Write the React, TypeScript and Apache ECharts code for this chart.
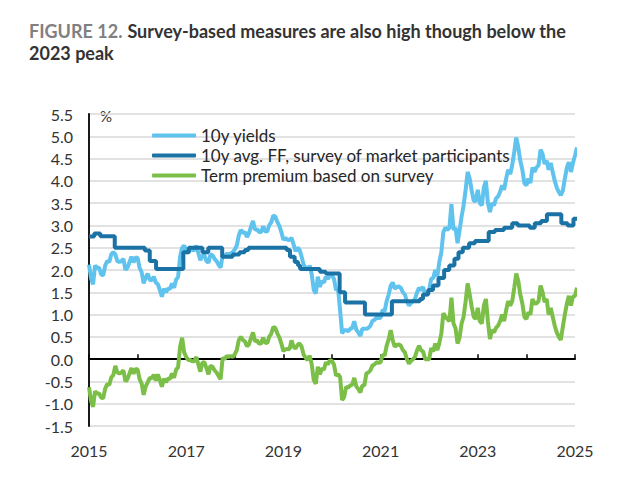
import React, { useEffect, useRef } from "react";
import * as echarts from "echarts";

// Observation dates: 1st and 16th of every month, Jan 2015 – Jan 2025
const obsYears = [2015, 2016, 2017, 2018, 2019, 2020, 2021, 2022, 2023, 2024];
const obsDays = ["01", "16"];
const obsDates: string[] = [];
obsYears.forEach((y) => {
  for (let m = 1; m <= 12; m++) {
    obsDays.forEach((d) => obsDates.push(`${y}-${String(m).padStart(2, "0")}-${d}`));
  }
});
obsDates.push("2025-01-01", "2025-01-16");

// 10y yields (%)
const tenYearYield = [
  // 2015
  2.12, 1.82, 1.68, 2.1, 2.05, 2.05, 1.9, 1.88, 2.1, 2.2, 2.18, 2.35, 2.4, 2.35, 2.2, 2.18, 2.2, 2.25, 2.0, 2.05, 2.18, 2.3, 2.17, 2.28,
  // 2016
  2.27, 2.05, 1.95, 1.7, 1.83, 1.92, 1.78, 1.77, 1.85, 1.72, 1.68, 1.55, 1.4, 1.58, 1.5, 1.58, 1.58, 1.7, 1.6, 1.78, 1.84, 2.3, 2.5, 2.55,
  // 2017
  2.45, 2.38, 2.48, 2.45, 2.45, 2.55, 2.38, 2.22, 2.32, 2.33, 2.2, 2.16, 2.35, 2.33, 2.25, 2.2, 2.12, 2.05, 2.33, 2.3, 2.37, 2.35, 2.37, 2.4,
  // 2018
  2.46, 2.55, 2.78, 2.9, 2.83, 2.85, 2.74, 2.83, 2.97, 3.1, 2.9, 2.92, 2.85, 2.85, 2.98, 2.87, 2.86, 3.0, 3.07, 3.22, 3.2, 3.08, 2.99, 2.85,
  // 2019
  2.68, 2.72, 2.68, 2.67, 2.72, 2.58, 2.42, 2.5, 2.45, 2.3, 2.12, 2.05, 2.0, 2.1, 1.9, 1.55, 1.47, 1.85, 1.62, 1.75, 1.72, 1.85, 1.8, 1.9,
  // 2020
  1.88, 1.8, 1.55, 1.58, 1.1, 0.58, 0.65, 0.65, 0.63, 0.68, 0.7, 0.85, 0.66, 0.6, 0.52, 0.68, 0.68, 0.68, 0.7, 0.75, 0.86, 0.88, 0.93, 0.92,
  // 2021
  0.93, 1.1, 1.08, 1.3, 1.45, 1.65, 1.72, 1.58, 1.62, 1.63, 1.6, 1.5, 1.45, 1.3, 1.2, 1.26, 1.3, 1.35, 1.5, 1.6, 1.55, 1.62, 1.45, 1.45,
  // 2022
  1.55, 1.8, 1.82, 2.0, 1.85, 2.18, 2.4, 2.85, 2.95, 2.9, 2.95, 3.48, 2.9, 2.95, 2.6, 2.88, 3.2, 3.45, 3.8, 4.2, 4.05, 3.78, 3.55, 3.55,
  // 2023
  3.8, 3.5, 3.45, 3.85, 4.0, 3.5, 3.3, 3.5, 3.45, 3.6, 3.65, 3.75, 3.9, 3.8, 4.05, 4.25, 4.15, 4.35, 4.65, 4.97, 4.75, 4.45, 4.25, 3.95,
  // 2024
  3.9, 4.05, 3.95, 4.3, 4.2, 4.3, 4.35, 4.7, 4.6, 4.38, 4.45, 4.25, 4.4, 4.2, 4.0, 3.85, 3.75, 3.68, 3.78, 4.05, 4.3, 4.42, 4.2, 4.4,
  // 2025
  4.57, 4.75,
];

// Term premium based on survey (%)
const termPremium = [
  // 2015
  -0.63, -0.93, -1.07, -0.72, -0.77, -0.77, -0.86, -0.88, -0.66, -0.56, -0.58, -0.41, -0.36, -0.15, -0.3, -0.32, -0.3, -0.25, -0.5, -0.45, -0.32, -0.2, -0.33, -0.22,
  // 2016
  -0.23, -0.45, -0.55, -0.8, -0.61, -0.52, -0.42, -0.43, -0.35, -0.48, -0.34, -0.47, -0.62, -0.44, -0.52, -0.44, -0.44, -0.32, -0.42, -0.24, -0.18, 0.28, 0.48, 0.15,
  // 2017
  0.05, -0.02, -0.02, -0.05, -0.05, 0.05, -0.12, -0.28, -0.08, -0.07, -0.2, -0.34, -0.15, -0.17, -0.25, -0.3, -0.38, -0.45, 0.03, 0.0, 0.07, 0.05, 0.07, 0.05,
  // 2018
  0.11, 0.2, 0.43, 0.5, 0.43, 0.4, 0.29, 0.33, 0.47, 0.6, 0.4, 0.42, 0.35, 0.35, 0.48, 0.37, 0.36, 0.5, 0.57, 0.72, 0.7, 0.58, 0.49, 0.35,
  // 2019
  0.18, 0.22, 0.23, 0.22, 0.42, 0.28, 0.24, 0.32, 0.35, 0.28, 0.1, 0.03, -0.02, 0.08, -0.12, -0.47, -0.55, -0.17, -0.34, -0.21, -0.24, -0.07, -0.12, -0.02,
  // 2020
  -0.04, -0.12, -0.37, -0.34, -0.4, -0.92, -0.85, -0.62, -0.64, -0.59, -0.57, -0.42, -0.61, -0.67, -0.75, -0.59, -0.59, -0.32, -0.3, -0.25, -0.14, -0.12, -0.07, -0.08,
  // 2021
  -0.07, 0.1, 0.08, 0.3, 0.45, 0.65, 0.42, 0.28, 0.32, 0.33, 0.3, 0.2, 0.15, 0.0, -0.1, -0.04, 0.0, 0.05, 0.2, 0.3, 0.2, 0.17, 0.0, 0.0,
  // 2022
  0.0, 0.25, 0.17, 0.35, 0.2, 0.36, 0.58, 1.03, 0.95, 0.9, 0.85, 1.38, 0.8, 0.7, 0.35, 0.48, 0.8, 0.95, 1.3, 1.7, 1.45, 1.18, 0.95, 0.9,
  // 2023
  1.15, 0.85, 0.8, 1.2, 1.35, 0.85, 0.45, 0.65, 0.6, 0.7, 0.75, 0.85, 1.0, 0.85, 1.1, 1.3, 1.2, 1.3, 1.6, 1.92, 1.75, 1.45, 1.25, 0.95,
  // 2024
  0.9, 1.05, 1.0, 1.35, 1.25, 1.25, 1.3, 1.65, 1.5, 1.28, 1.35, 1.0, 1.15, 0.95, 0.75, 0.6, 0.5, 0.43, 0.73, 1.0, 1.25, 1.42, 1.2, 1.4,
  // 2025
  1.42, 1.6,
];

// 10y avg. FF, survey of market participants (%), value holds from each date
const ffDates = [
  "2015-01-01", "2015-02-10", "2015-03-25", "2015-07-12", "2016-02-25", "2016-04-01", "2016-05-18", "2016-12-10",
  "2017-01-20", "2017-05-01", "2017-06-15", "2017-09-28", "2017-12-15", "2018-02-05", "2018-03-15", "2018-04-12",
  "2019-01-25", "2019-02-20", "2019-03-25", "2019-04-20", "2019-05-05", "2019-10-01", "2019-11-15", "2020-02-28",
  "2020-04-08", "2020-09-05", "2021-03-25", "2021-10-22", "2021-11-15", "2021-12-24", "2022-01-30", "2022-03-10",
  "2022-04-22", "2022-05-30", "2022-07-08", "2022-08-08", "2022-09-10", "2022-10-27", "2022-12-10", "2023-03-22",
  "2023-05-08", "2023-07-15", "2023-09-16", "2023-10-27", "2024-01-26", "2024-03-03", "2024-04-20", "2024-06-03",
  "2024-09-20", "2024-11-06", "2024-12-20", "2025-01-16",
];
const ffValues = [
  2.75, 2.82, 2.76, 2.5, 2.44, 2.2, 2.02, 2.4,
  2.5, 2.4, 2.5, 2.3, 2.35, 2.4, 2.45, 2.5,
  2.45, 2.3, 2.18, 2.1, 2.02, 1.96, 1.92, 1.5,
  1.27, 1.0, 1.3, 1.35, 1.45, 1.55, 1.65, 1.82,
  2.0, 2.1, 2.25, 2.4, 2.5, 2.6, 2.65, 2.85,
  2.9, 2.95, 3.05, 3.0, 2.95, 3.05, 3.1, 3.25,
  3.05, 3.0, 3.15, 3.15,
];

const seriesNames = ["10y yields", "10y avg. FF, survey of market participants", "Term premium based on survey"];
const seriesColors = ["#5fc3ee", "#1b72a4", "#7bbf48"];
const yTicks = { min: -1.5, max: 5.5, step: 0.5 };
const xYears = { min: 2015, max: 2025, step: 1 };

function toYear(d: string): number {
  const [y, m, day] = d.split("-").map(Number);
  return y + (m - 1) / 12 + (day - 1) / 365.25;
}

const FONT = "Lato";

export default function App() {
  const ref = useRef<HTMLDivElement>(null);
  useEffect(() => {
    document.body.style.margin = "0";
    const chart = echarts.init(ref.current!, null, { renderer: "svg" });
    const yieldData = obsDates.map((d, i) => [toYear(d), tenYearYield[i]]);
    const tpData = obsDates.map((d, i) => [toYear(d), termPremium[i]]);
    const ffData = ffDates.map((d, i) => [toYear(d), ffValues[i]]);

    const option: any = {
      animation: false,
      title: {
        text: "{g|FIGURE 12.} {b|Survey-based measures are also high though below the}\n{b|2023 peak}",
        left: 24,
        top: 15,
        textStyle: {
          rich: {
            g: { color: "#808080", fontWeight: "bold", fontSize: 18, fontFamily: FONT, lineHeight: 22 },
            b: { color: "#333333", fontWeight: "bold", fontSize: 18, fontFamily: FONT, lineHeight: 22 },
          },
        },
      },
      grid: { left: 89, right: 68, top: 114, bottom: 70, containLabel: false },
      legend: {
        orient: "vertical",
        left: 147,
        top: 122,
        itemWidth: 44,
        itemHeight: 4,
        itemGap: 3,
        icon: "roundRect",
        textStyle: { fontFamily: FONT, fontSize: 17, color: "#262626" },
        data: seriesNames,
      },
      graphic: [
        {
          type: "text",
          left: 100,
          top: 108,
          style: { text: "%", font: `15px ${FONT}`, fill: "#333" },
        },
      ],
      xAxis: [
        {
          type: "value",
          min: xYears.min,
          max: xYears.max,
          interval: xYears.step,
          position: "bottom",
          axisLine: { show: false, onZero: false },
          axisTick: { show: false },
          splitLine: { show: false },
          axisLabel: {
            margin: 16,
            fontFamily: FONT,
            fontSize: 16,
            color: "#333",
            formatter: (v: number) => (Math.round(v) === v && v % 2 === 1 ? String(v) : ""),
          },
        },
        {
          type: "value",
          min: xYears.min,
          max: xYears.max,
          interval: xYears.step,
          axisLine: { show: true, onZero: true, lineStyle: { color: "#000", width: 1.8 } },
          axisTick: { show: true, length: 5, lineStyle: { color: "#000", width: 1.5 } },
          axisLabel: { show: false },
          splitLine: { show: false },
        },
      ],
      yAxis: {
        type: "value",
        min: yTicks.min,
        max: yTicks.max,
        interval: yTicks.step,
        axisLine: { show: true, onZero: false, lineStyle: { color: "#000", width: 1.8 } },
        axisTick: { show: false },
        splitLine: { show: true, lineStyle: { color: "#d9d9d9", width: 1.5 } },
        axisLabel: {
          margin: 16,
          fontFamily: FONT,
          fontSize: 16,
          color: "#333",
          formatter: (v: number) => v.toFixed(1),
        },
      },
      series: [
        {
          name: seriesNames[0],
          type: "line",
          data: yieldData,
          showSymbol: false,
          symbol: "none",
          clip: false,
          color: seriesColors[0],
          lineStyle: { width: 4, color: seriesColors[0] },
          z: 2,
        },
        {
          name: seriesNames[1],
          type: "line",
          data: ffData,
          step: "end",
          showSymbol: false,
          symbol: "none",
          clip: false,
          color: seriesColors[1],
          lineStyle: { width: 4, color: seriesColors[1] },
          z: 3,
        },
        {
          name: seriesNames[2],
          type: "line",
          data: tpData,
          showSymbol: false,
          symbol: "none",
          clip: false,
          color: seriesColors[2],
          lineStyle: { width: 4, color: seriesColors[2] },
          z: 4,
        },
      ],
    };
    chart.setOption(option);
    return () => chart.dispose();
  }, []);
  return <div ref={ref} style={{ width: 643, height: 496 }} />;
}
